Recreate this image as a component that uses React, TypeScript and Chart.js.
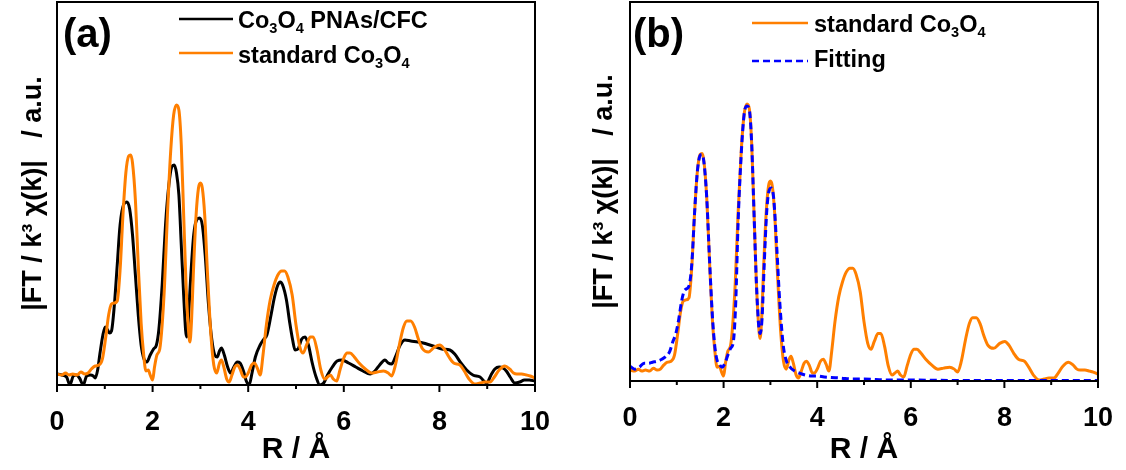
import React, { useEffect, useRef } from 'react';
import { Chart, registerables } from 'chart.js';

Chart.register(...registerables);

// ---------- data (R in Å, |FT| in arbitrary units) ----------
const rStd = [0.00,0.10,0.18,0.25,0.33,0.42,0.50,0.58,0.65,0.72,0.80,0.88,0.95,1.02,1.08,1.14,1.20,1.26,1.32,1.38,1.44,1.50,1.54,1.58,1.64,1.70,1.76,1.81,1.86,1.91,1.95,2.00,2.04,2.09,2.15,2.20,2.25,2.31,2.38,2.44,2.50,2.55,2.60,2.65,2.70,2.75,2.78,2.81,2.86,2.91,2.96,3.00,3.04,3.09,3.15,3.22,3.28,3.34,3.40,3.44,3.49,3.55,3.60,3.66,3.72,3.77,3.83,3.90,3.94,4.00,4.07,4.13,4.19,4.25,4.31,4.38,4.46,4.54,4.62,4.70,4.76,4.83,4.92,5.00,5.08,5.15,5.22,5.30,5.36,5.44,5.52,5.60,5.66,5.72,5.78,5.85,5.92,6.00,6.07,6.13,6.22,6.32,6.45,6.58,6.70,6.83,6.93,7.00,7.08,7.17,7.25,7.32,7.40,7.48,7.56,7.65,7.77,7.90,8.01,8.10,8.20,8.30,8.43,8.52,8.62,8.74,8.85,8.95,9.06,9.15,9.25,9.37,9.47,9.55,9.62,9.72,9.82,9.90,10.00];
const ftStd = [11,10,12,10,11,10,13,11,12,16,19,20,26,48,70,81,82,84,115,170,212,229,230,222,185,120,62,32,14,15,10,5,18,30,36,60,100,170,235,270,280,275,240,170,100,55,43,60,120,170,197,202,197,170,110,50,20,12,22,25,18,6,3,10,18,20,16,8,8,12,20,22,17,10,30,60,85,100,110,114,114,108,90,60,38,32,40,48,48,35,15,6,8,10,6,4,15,27,32,32,28,22,16,12,13,14,12,9,20,42,58,64,64,58,46,36,33,38,40,36,28,22,20,14,6,1,2,3,3,8,15,19,16,12,11,11,10,9,7];

const rPNA = [0.00,0.10,0.20,0.27,0.34,0.40,0.47,0.55,0.62,0.70,0.76,0.80,0.85,0.90,0.96,1.01,1.06,1.10,1.14,1.20,1.26,1.32,1.40,1.46,1.52,1.58,1.64,1.70,1.76,1.82,1.88,1.95,2.02,2.08,2.13,2.20,2.27,2.34,2.40,2.45,2.50,2.55,2.60,2.65,2.69,2.71,2.74,2.80,2.86,2.92,2.98,3.04,3.10,3.17,3.24,3.30,3.35,3.40,3.44,3.50,3.57,3.63,3.70,3.77,3.83,3.90,3.96,4.02,4.08,4.15,4.25,4.33,4.39,4.47,4.55,4.62,4.67,4.72,4.80,4.87,4.93,4.98,5.04,5.12,5.19,5.26,5.34,5.42,5.50,5.58,5.66,5.76,5.86,5.96,6.10,6.25,6.40,6.55,6.65,6.75,6.86,6.93,7.00,7.08,7.18,7.28,7.40,7.55,7.66,7.80,7.93,8.05,8.22,8.32,8.45,8.57,8.70,8.85,8.99,9.08,9.16,9.25,9.33,9.40,9.48,9.58,9.68,9.78,9.88,10.00];
const ftPNA = [11,10,8,0,9,10,7,0,9,10,9,7,15,32,50,58,55,52,54,80,120,160,181,183,176,150,110,70,40,26,23,30,36,40,55,100,160,200,218,220,212,190,140,90,55,48,60,110,150,165,167,160,130,80,45,30,28,34,37,30,18,12,18,23,22,14,4,0,12,28,40,46,50,68,88,100,103,100,85,62,45,35,36,46,48,40,22,8,0,2,10,18,24,25,22,18,14,11,14,20,25,22,21,28,40,45,44,43,42,40,38,36,35,31,22,15,10,8,2,10,16,18,17,14,8,2,3,5,5,4];

const rFit = [0.00,0.10,0.20,0.30,0.40,0.48,0.58,0.68,0.77,0.85,0.91,0.98,1.04,1.10,1.15,1.20,1.26,1.32,1.38,1.44,1.50,1.54,1.58,1.64,1.70,1.76,1.81,1.86,1.92,1.97,2.03,2.09,2.15,2.21,2.26,2.31,2.38,2.44,2.50,2.55,2.60,2.65,2.70,2.75,2.78,2.82,2.87,2.92,2.97,3.02,3.07,3.13,3.20,3.27,3.33,3.42,3.52,3.62,3.75,3.88,4.00,4.15,4.30,4.50,4.75,5.00,5.50,6.00,7.00,8.00,9.00,10.00];
const ftFit = [15,12,14,18,18,19,20,22,25,30,39,48,62,80,90,93,96,118,170,212,228,229,221,185,122,66,36,21,16,14,18,26,33,40,80,160,232,270,278,274,240,170,100,56,48,62,120,170,192,195,185,140,80,38,22,14,10,8,6,5,5,4,3.5,3,2,2,1,1,0.5,0.5,0.5,0.5];

const xTickValues = [0, 1, 2, 3, 4, 5, 6, 7, 8, 9, 10];
const xTickLabels = ['0', '2', '4', '6', '8', '10'];

const seriesNames = {
  pna: [{ t: 'Co' }, { t: '3', sub: true }, { t: 'O' }, { t: '4', sub: true }, { t: ' PNAs/CFC' }],
  std: [{ t: 'standard Co' }, { t: '3', sub: true }, { t: 'O' }, { t: '4', sub: true }],
  fit: [{ t: 'Fitting' }],
};

const Y_TITLE = '|FT / k\u00B3 \u03C7(k)|   / a.u.';
const X_TITLE = 'R / \u00C5';

// ---------- styling ----------
const ARIAL = '"Liberation Sans", Arial, sans-serif';
const ORANGE = '#FF7F00';
const BLUE = '#0000FF';

type Seg = { t: string; sub?: boolean };

function pts(xs: number[], ys: number[]) {
  return xs.map((x, i) => ({ x, y: ys[i] }));
}

function drawRich(ctx: CanvasRenderingContext2D, segs: Seg[], x: number, y: number, size: number) {
  let cx = x;
  ctx.textAlign = 'left';
  ctx.textBaseline = 'alphabetic';
  ctx.fillStyle = '#000';
  for (const s of segs) {
    if (s.sub) {
      ctx.font = `bold ${size * 0.62}px ${ARIAL}`;
      ctx.fillText(s.t, cx, y + 5);
    } else {
      ctx.font = `bold ${size}px ${ARIAL}`;
      ctx.fillText(s.t, cx, y);
    }
    cx += ctx.measureText(s.t).width;
  }
}

type LegendItem = { text: Seg[]; color: string; dash?: number[]; x0: number; x1: number; ly: number; tx: number; ty: number };

function framePlugin(label: string, labelX: number, legend: LegendItem[]) {
  return {
    id: 'frameAndLegend',
    afterDraw(chart: any) {
      const { ctx, chartArea: a, scales } = chart;
      ctx.save();
      ctx.strokeStyle = '#000';
      ctx.lineWidth = 2;
      const xs = scales.x;
      xTickValues.forEach((v) => {
        const px = xs.getPixelForValue(v);
        const len = v % 2 === 0 ? 7 : 4;
        ctx.beginPath();
        ctx.moveTo(px, a.bottom);
        ctx.lineTo(px, a.bottom + len);
        ctx.stroke();
      });
      ctx.strokeRect(a.left, a.top, a.right - a.left, a.bottom - a.top);

      ctx.fillStyle = '#000';
      ctx.font = `bold 40px ${ARIAL}`;
      ctx.textAlign = 'left';
      ctx.textBaseline = 'alphabetic';
      ctx.fillText(label, labelX, 47);

      legend.forEach((it) => {
        ctx.save();
        ctx.strokeStyle = it.color;
        ctx.lineWidth = 2.5;
        ctx.setLineDash(it.dash || []);
        ctx.beginPath();
        ctx.moveTo(it.x0, it.ly);
        ctx.lineTo(it.x1, it.ly);
        ctx.stroke();
        ctx.restore();
        drawRich(ctx, it.text, it.tx, it.ty, 23.5);
      });
      ctx.restore();
    },
  };
}

function makeOptions(yTitlePad: number, yWidth: number, xHeight: number, rightPad: number) {
  return {
    animation: false as const,
    responsive: false,
    maintainAspectRatio: false,
    layout: { padding: { top: 2, right: rightPad, left: 0, bottom: 0 } },
    plugins: { legend: { display: false }, tooltip: { enabled: false } },
    elements: { point: { radius: 0 } },
    scales: {
      x: {
        type: 'linear' as const,
        min: 0,
        max: 10,
        border: { display: false },
        grid: { display: false },
        ticks: {
          stepSize: 1,
          autoSkip: false,
          maxRotation: 0,
          color: '#000',
          padding: 13,
          font: { size: 27, weight: 'bold' as const, family: ARIAL },
          callback: (v: any) => (xTickLabels.includes(String(v)) ? String(v) : ''),
        },
        title: {
          display: true,
          text: X_TITLE,
          color: '#000',
          font: { size: 30, weight: 'bold' as const, family: ARIAL },
          padding: { top: 0, bottom: 2 },
        },
        afterFit: (s: any) => {
          s.height = xHeight;
        },
      },
      y: {
        min: 0,
        max: 383,
        border: { display: false },
        grid: { display: false },
        ticks: { display: false },
        title: {
          display: true,
          text: Y_TITLE,
          color: '#000',
          font: { size: 27, weight: 'bold' as const, family: ARIAL },
          padding: { top: yTitlePad, bottom: 0 },
        },
        afterFit: (s: any) => {
          s.width = yWidth;
        },
      },
    },
  };
}

export default function App() {
  const refA = useRef<HTMLCanvasElement>(null);
  const refB = useRef<HTMLCanvasElement>(null);

  useEffect(() => {
    const chartA = new Chart(refA.current as HTMLCanvasElement, {
      type: 'line',
      data: {
        datasets: [
          { label: 'standard Co3O4', data: pts(rStd, ftStd), borderColor: ORANGE, borderWidth: 3, cubicInterpolationMode: 'monotone', order: 0 },
          { label: 'Co3O4 PNAs/CFC', data: pts(rPNA, ftPNA), borderColor: '#000', borderWidth: 3, cubicInterpolationMode: 'monotone', order: 1 },
        ],
      },
      options: makeOptions(17, 57, 85, 30) as any,
      plugins: [
        framePlugin('(a)', 63, [
          { text: seriesNames.pna, color: '#000', x0: 179, x1: 233, ly: 19, tx: 238, ty: 28 },
          { text: seriesNames.std, color: ORANGE, x0: 179, x1: 233, ly: 53, tx: 238, ty: 63 },
        ]),
      ],
    });

    const chartB = new Chart(refB.current as HTMLCanvasElement, {
      type: 'line',
      data: {
        datasets: [
          { label: 'Fitting', data: pts(rFit, ftFit), borderColor: BLUE, borderWidth: 3, borderDash: [7, 4], cubicInterpolationMode: 'monotone', order: 0 },
          { label: 'standard Co3O4', data: pts(rStd, ftStd), borderColor: ORANGE, borderWidth: 3, cubicInterpolationMode: 'monotone', order: 1 },
        ],
      },
      options: makeOptions(23, 65, 89, 25) as any,
      plugins: [
        framePlugin('(b)', 68, [
          { text: seriesNames.std, color: ORANGE, x0: 187, x1: 243, ly: 23, tx: 249, ty: 32 },
          { text: seriesNames.fit, color: BLUE, dash: [7, 4], x0: 187, x1: 243, ly: 61, tx: 249, ty: 67 },
        ]),
      ],
    });

    return () => {
      chartA.destroy();
      chartB.destroy();
    };
  }, []);

  return (
    <div style={{ position: 'fixed', left: 0, top: 0, width: 1126, height: 470, background: '#fff' }}>
      <canvas ref={refA} width={565} height={470} style={{ position: 'absolute', left: 0, top: 0, width: 565, height: 470 }} />
      <canvas ref={refB} width={561} height={470} style={{ position: 'absolute', left: 565, top: 0, width: 561, height: 470 }} />
    </div>
  );
}
